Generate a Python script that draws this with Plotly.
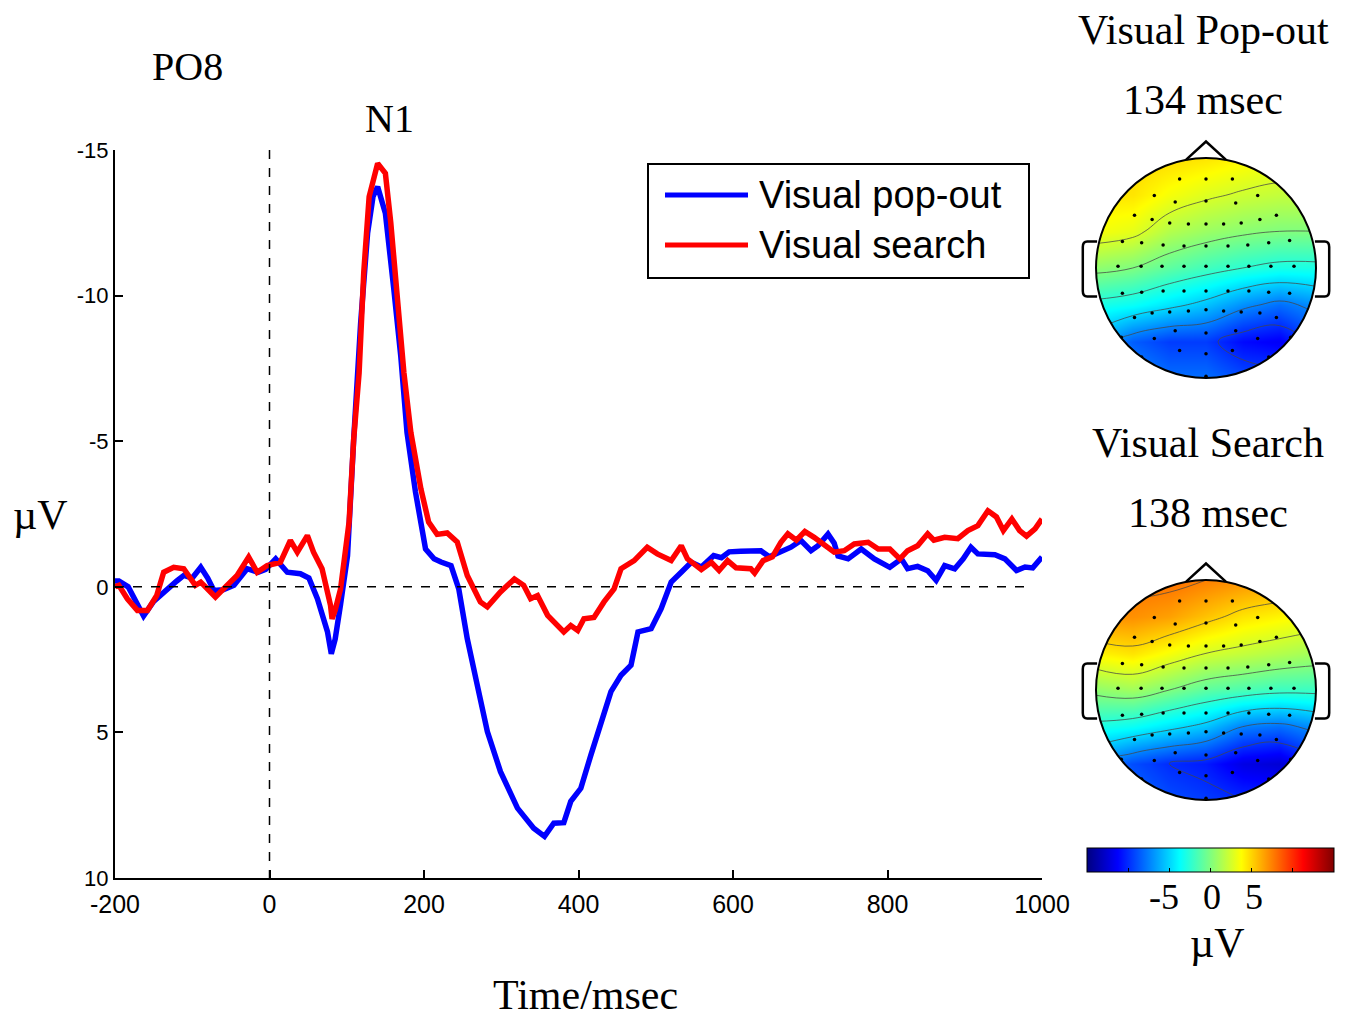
import numpy as np
import plotly.graph_objects as go

W, H = 1355, 1020

# ---------------- ERP data (PO8) ----------------
popout_t = [-200, -195, -183, -170, -163, -150, -133, -120, -111, -100, -89, -80, -72, -60, -46, -29, -15, -5,
            8, 23, 40, 51, 62, 70, 75, 80, 85, 92, 101, 109, 118, 127, 134, 140, 150, 161, 170, 178, 189, 202,
            213, 222, 235, 245, 256, 269, 282, 299, 321, 342, 356, 368, 381, 390, 403, 416, 429, 442, 455, 468,
            477, 494, 507, 520, 533, 546, 559, 575, 585, 595, 610, 636, 647, 662, 675, 688, 701, 710, 723, 731,
            736, 749, 766, 783, 803, 818, 826, 839, 852, 863, 874, 887, 898, 908, 917, 939, 952, 967, 978, 988, 1000]
popout_v = [-0.2, -0.2, 0.0, 0.7, 1.0, 0.5, 0.07, -0.2, -0.39, -0.3, -0.67, -0.3, 0.13, 0.1, -0.05, -0.62, -0.5, -0.6,
            -0.96, -0.5, -0.45, -0.3, 0.41, 1.2, 1.54, 2.3, 1.8, 0.6, -1.07, -5.07, -9.07, -12.15, -13.4, -13.74, -12.83, -10.2, -7.9, -5.3, -3.25, -1.3,
            -0.96, -0.85, -0.73, 0.07, 1.78, 3.38, 4.97, 6.35, 7.6, 8.29, 8.57, 8.12, 8.1, 7.37, 6.92, 5.78, 4.63, 3.6, 3.04, 2.69,
            1.55, 1.44, 0.75, -0.16, -0.5, -0.84, -0.68, -1.07, -1.0, -1.2, -1.22, -1.24, -1.03, -1.22, -1.36, -1.59, -1.24, -1.41, -1.81, -1.5,
            -1.06, -0.96, -1.3, -0.96, -0.67, -0.96, -0.62, -0.7, -0.55, -0.22, -0.73, -0.62, -0.96, -1.36, -1.13, -1.1, -0.96, -0.56, -0.68, -0.65, -1.02]

search_t = [-200, -195, -184, -171, -158, -146, -137, -124, -111, -96, -89, -80, -70, -55, -42, -27, -16, -3,
            14, 27, 36, 49, 57, 68, 79, 81, 85, 92, 103, 109, 116, 122, 129, 140, 150, 157, 165, 174, 183, 196,
            206, 217, 230, 243, 256, 273, 282, 299, 317, 329, 338, 347, 360, 381, 390, 399, 407, 420, 433, 446,
            455, 472, 489, 502, 520, 533, 541, 559, 572, 582, 593, 604, 623, 628, 639, 651, 662, 671, 682, 693,
            705, 718, 731, 744, 757, 775, 788, 803, 816, 826, 839, 852, 860, 874, 891, 904, 917, 930, 941, 950,
            961, 971, 980, 991, 1000]
search_v = [0.0, -0.05, 0.41, 0.81, 0.81, 0.3, -0.5, -0.67, -0.62, -0.05, -0.16, 0.07, 0.35, -0.05, -0.39, -1.02, -0.5, -0.73,
            -0.84, -1.59, -1.19, -1.76, -1.19, -0.62, 0.64, 1.1, 0.8, 0.07, -2.22, -5.07, -7.35, -10.8, -13.4, -14.54, -14.2, -12.5, -10.2, -7.35, -5.3, -3.36,
            -2.22, -1.8, -1.85, -1.54, -0.39, 0.52, 0.69, 0.18, -0.27, -0.05, 0.41, 0.3, 0.98, 1.55, 1.33, 1.5, 1.1, 1.05, 0.52, 0.07,
            -0.62, -0.9, -1.36, -1.13, -0.9, -1.41, -0.96, -0.59, -0.84, -0.56, -0.9, -0.65, -0.62, -0.47, -0.9, -1.03, -1.53, -1.82, -1.6, -1.9,
            -1.7, -1.47, -1.19, -1.24, -1.47, -1.53, -1.3, -1.3, -0.96, -1.24, -1.41, -1.82, -1.6, -1.7, -1.65, -1.93, -2.1, -2.61, -2.4, -1.93,
            -2.33, -1.93, -1.74, -1.99, -2.33]

x_ticks = [-200, 0, 200, 400, 600, 800, 1000]
x_tick_text = ['-200', '0', '200', '400', '600', '800', '1000']
y_ticks = [-15, -10, -5, 0, 5, 10]
y_tick_text = ['-15', '-10', '-5', '0', '5', '10']

# ---------------- Topomap data (coarse grid, rows top->bottom) ----------------
grid_x = [-1, -2/3, -1/3, 0, 1/3, 2/3, 1]
grid_y_top_down = [1, 2/3, 1/3, 0, -1/3, -2/3, -1]
popout_map = [
    [5.0, 5.0, 4.8, 4.5, 4.0, 3.5, 3.5],
    [4.5, 4.5, 3.5, 2.8, 2.3, 2.0, 2.0],
    [3.5, 3.0, 1.5, 0.8, 0.3, 0.0, 0.0],
    [0.5, 0.0, -1.0, -1.8, -2.5, -3.0, -3.0],
    [-3.0, -3.5, -4.5, -5.5, -7.0, -8.0, -7.0],
    [-6.0, -8.5, -9.5, -9.5, -11.0, -11.5, -9.0],
    [-6.0, -7.0, -8.0, -8.0, -9.0, -9.0, -8.0],
]
search_map = [
    [8.0, 8.0, 8.0, 7.5, 7.0, 6.5, 6.0],
    [7.0, 7.0, 6.5, 5.5, 4.5, 4.0, 3.5],
    [4.0, 4.5, 3.5, 2.5, 2.0, 1.5, 1.0],
    [0.5, 1.0, 0.0, -1.0, -1.5, -2.0, -2.0],
    [-3.0, -3.5, -4.5, -5.5, -7.5, -8.0, -7.0],
    [-7.0, -9.0, -10.0, -10.5, -12.0, -12.5, -10.0],
    [-7.0, -8.0, -9.0, -9.5, -10.0, -10.0, -9.0],
]
elec_x = [-0.24, 0, 0.24,
          -0.47, -0.28, 0, 0.27, 0.47,
          -0.65, -0.49, -0.33, -0.16, 0, 0.16, 0.32, 0.49, 0.64,
          -0.76, -0.585, -0.39, -0.2, 0, 0.2, 0.38, 0.57, 0.76,
          -0.8, -0.59, -0.4, -0.2, 0, 0.2, 0.39, 0.59, 0.8,
          -0.76, -0.585, -0.39, -0.2, 0, 0.2, 0.39, 0.57, 0.76,
          -0.65, -0.49, -0.33, -0.16, 0, 0.16, 0.32, 0.49, 0.64,
          -0.77, -0.47, -0.28, 0, 0.27, 0.47, 0.77,
          -0.585, -0.24, 0, 0.24, 0.57,
          0]
elec_y = [0.81, 0.81, 0.81,
          0.66, 0.6, 0.61, 0.59, 0.66,
          0.48, 0.44, 0.41, 0.40, 0.40, 0.40, 0.41, 0.44, 0.48,
          0.24, 0.23, 0.21, 0.20, 0.20, 0.20, 0.21, 0.23, 0.25,
          0.015, 0.015, 0.015, 0.015, 0.015, 0.015, 0.015, 0.015, 0.015,
          -0.23, -0.22, -0.21, -0.21, -0.21, -0.21, -0.21, -0.22, -0.23,
          -0.45, -0.41, -0.40, -0.39, -0.38, -0.39, -0.40, -0.41, -0.45,
          -0.63, -0.64, -0.57, -0.59, -0.57, -0.64, -0.63,
          -0.81, -0.75, -0.78, -0.75, -0.81,
          -0.985]

cbar_ticks = [-15, -10, -5, 0, 5, 10, 15]
cbar_labels = ['-5', '0', '5']

jet = [[0.0, 'rgb(0,0,128)'], [0.125, 'rgb(0,0,255)'], [0.375, 'rgb(0,255,255)'],
       [0.625, 'rgb(255,255,0)'], [0.875, 'rgb(255,0,0)'], [1.0, 'rgb(128,0,0)']]

SERIF = "Liberation Serif, Times New Roman, serif"
SANS = "Liberation Sans, Arial, sans-serif"

fig = go.Figure()

# ERP curves
fig.add_trace(go.Scatter(x=popout_t, y=popout_v, mode='lines', line=dict(color='rgb(0,0,255)', width=5.5),
                         name='Visual pop-out', showlegend=False, xaxis='x', yaxis='y'))
fig.add_trace(go.Scatter(x=search_t, y=search_v, mode='lines', line=dict(color='rgb(255,0,0)', width=5.5),
                         name='Visual search', showlegend=False, xaxis='x', yaxis='y'))

# Topomaps
gy = grid_y_top_down[::-1]
for i, (m, xa, ya) in enumerate([(popout_map, 'x2', 'y2'), (search_map, 'x3', 'y3')]):
    z = m[::-1]
    fig.add_trace(go.Heatmap(x=grid_x, y=gy, z=z, coloraxis='coloraxis', zsmooth='best',
                             xaxis=xa, yaxis=ya, hoverinfo='skip'))
    fig.add_trace(go.Contour(x=grid_x, y=gy, z=z, showscale=False, xaxis=xa, yaxis=ya,
                             contours=dict(coloring='none', start=-12.5, end=7.5, size=2.5),
                             line=dict(color='rgba(70,70,70,0.75)', width=1, smoothing=1.2),
                             hoverinfo='skip'))
    fig.add_trace(go.Scatter(x=elec_x, y=elec_y, mode='markers', xaxis=xa, yaxis=ya,
                             marker=dict(color='black', size=3.5), showlegend=False, hoverinfo='skip'))

# axes
main_x = [115 / W, 1042 / W]
main_y = [1 - 878 / H, 1 - 150 / H]
topo_x = [1074 / W, 1338 / W]
topo1_y = [1 - 400 / H, 1 - 136 / H]
topo2_y = [1 - 822 / H, 1 - 558 / H]

hidden = dict(visible=False, range=[-1.2, 1.2], fixedrange=True)

fig.update_layout(
    width=W, height=H,
    margin=dict(l=0, r=0, t=0, b=0, autoexpand=False),
    paper_bgcolor='white', plot_bgcolor='white',
    showlegend=False,
    xaxis=dict(domain=main_x, range=[-200, 1000], tickvals=x_ticks, ticktext=x_tick_text,
               ticks='inside', ticklen=8, automargin=False, ticklabelstandoff=3,
               tickwidth=2, tickcolor='black', showline=True, linewidth=2, linecolor='black',
               showgrid=False, zeroline=False, tickfont=dict(family=SANS, size=25, color='black'),
               anchor='y'),
    yaxis=dict(domain=main_y, range=[10, -15], tickvals=y_ticks, ticktext=y_tick_text,
               ticks='inside', ticklen=8, automargin=False,
               tickwidth=2, tickcolor='black', showline=True, linewidth=2, linecolor='black',
               showgrid=False, zeroline=False, tickfont=dict(family=SANS, size=22, color='black'),
               anchor='x'),
    xaxis2=dict(domain=topo_x, anchor='y2', **hidden),
    yaxis2=dict(domain=topo1_y, anchor='x2', **hidden),
    xaxis3=dict(domain=topo_x, anchor='y3', **hidden),
    yaxis3=dict(domain=topo2_y, anchor='x3', **hidden),
    coloraxis=dict(cmin=-15, cmax=15, colorscale=jet,
                   colorbar=dict(orientation='h', x=(1087 + 1334) / 2 / W, xanchor='center',
                                 y=1 - 848 / H, yanchor='top', len=247 / W, lenmode='fraction',
                                 thickness=24, thicknessmode='pixels', outlinewidth=1, outlinecolor='black',
                                 xpad=0, ypad=0,
                                 tickvals=cbar_ticks, ticks='inside', ticklen=4,
                                 tickcolor='black', showticklabels=False)),
)

shapes = []
# dashed reference lines
shapes.append(dict(type='line', xref='x', yref='y', x0=-200, x1=985, y0=0, y1=0,
                   line=dict(color='black', width=1.5, dash='dash')))
shapes.append(dict(type='line', xref='x', yref='y', x0=0, x1=0, y0=-15, y1=10,
                   line=dict(color='black', width=1.5, dash='dash')))

# legend box
shapes.append(dict(type='rect', xref='paper', yref='paper', x0=648 / W, x1=1029 / W,
                   y0=1 - 278 / H, y1=1 - 164 / H, line=dict(color='black', width=2),
                   fillcolor='white', layer='above'))
shapes.append(dict(type='line', xref='paper', yref='paper', x0=665 / W, x1=748 / W,
                   y0=1 - 195 / H, y1=1 - 195 / H, line=dict(color='rgb(0,0,255)', width=5), layer='above'))
shapes.append(dict(type='line', xref='paper', yref='paper', x0=665 / W, x1=748 / W,
                   y0=1 - 245 / H, y1=1 - 245 / H, line=dict(color='rgb(255,0,0)', width=5), layer='above'))

# head masks / outlines
theta = np.linspace(0, -2 * np.pi, 121)
circ = " ".join(f"L {np.cos(a):.4f},{np.sin(a):.4f}" for a in theta[1:])
mask_path = (f"M -1.2,-1.2 L 1.2,-1.2 L 1.2,1.2 L -1.2,1.2 Z "
             f"M 1,0 {circ} Z")
ear_l = ("M -0.99,0.24 L -1.08,0.24 Q -1.12,0.24 -1.12,0.19 L -1.12,-0.21 "
         "Q -1.12,-0.26 -1.08,-0.26 L -0.99,-0.26")
ear_r = ("M 0.99,0.24 L 1.08,0.24 Q 1.12,0.24 1.12,0.19 L 1.12,-0.21 "
         "Q 1.12,-0.26 1.08,-0.26 L 0.99,-0.26")
nose = "M -0.18,0.985 L 0,1.15 L 0.18,0.985"
for xa, ya in [('x2', 'y2'), ('x3', 'y3')]:
    shapes.append(dict(type='path', xref=xa, yref=ya, path=mask_path, fillcolor='white',
                       line=dict(width=0), layer='above'))
    shapes.append(dict(type='circle', xref=xa, yref=ya, x0=-1, x1=1, y0=-1, y1=1,
                       line=dict(color='black', width=2), layer='above'))
    for p in (ear_l, ear_r, nose):
        shapes.append(dict(type='path', xref=xa, yref=ya, path=p,
                           line=dict(color='black', width=2.5), layer='above'))

fig.update_layout(shapes=shapes)

ann = []


def txt(s, x, y, size, family=SERIF, xanchor='center'):
    ann.append(dict(text=s, x=x / W, y=1 - y / H, xref='paper', yref='paper', showarrow=False,
                    xanchor=xanchor, yanchor='middle', font=dict(family=family, size=size, color='black')))


txt('PO8', 187, 67, 40)
txt('N1', 389, 118, 40)
txt('µV', 40, 515, 42)
txt('Time/msec', 585, 995, 42)
txt('Visual Pop-out', 1203, 30, 42)
txt('134 msec', 1203, 100, 42)
txt('Visual Search', 1208, 443, 42)
txt('138 msec', 1208, 513, 42)
for lab, px in zip(cbar_labels, [1164, 1212, 1254]):
    txt(lab, px, 897, 36)
txt('µV', 1217, 943, 42)
txt('Visual pop-out', 757, 195, 38, SANS, 'left')
txt('Visual search', 757, 245, 38, SANS, 'left')
fig.update_layout(annotations=ann)

fig.write_html("out.html", config={'displayModeBar': False},
               post_script="document.body.style.margin='0px';document.body.style.padding='0px';"
                           "document.documentElement.style.overflow='hidden';")
